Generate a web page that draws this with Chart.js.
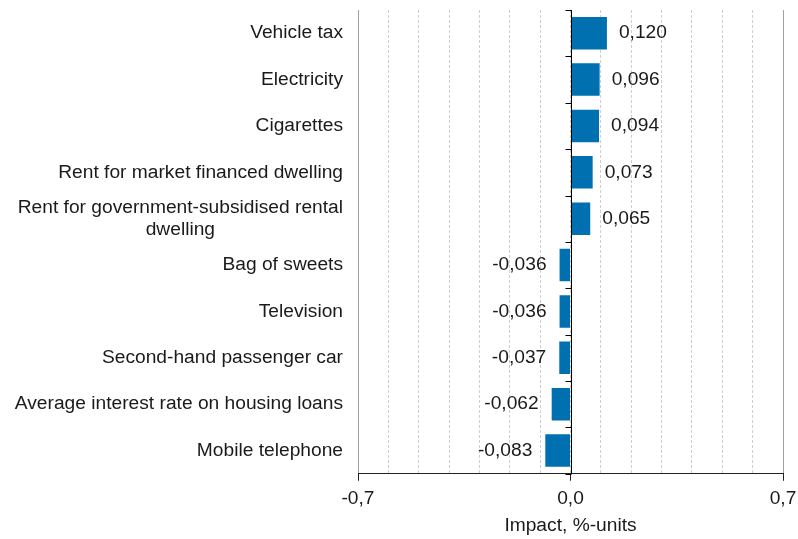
<!DOCTYPE html>
<html><head><meta charset="utf-8">
<script src="https://cdn.jsdelivr.net/npm/chart.js@4"></script>
<style>html,body{margin:0;padding:0;background:#fff}#wrap{width:798px;height:539px;position:relative}</style>
</head><body><div id="wrap"><canvas id="c"></canvas></div>
<script>
const categories = [
  'Vehicle tax',
  'Electricity',
  'Cigarettes',
  'Rent for market financed dwelling',
  ['Rent for government-subsidised rental', 'dwelling'],
  'Bag of sweets',
  'Television',
  'Second-hand passenger car',
  'Average interest rate on housing loans',
  'Mobile telephone'
];
const impacts = [0.120, 0.096, 0.094, 0.073, 0.065, -0.036, -0.036, -0.037, -0.062, -0.083];
const xLabelledTicks = [-0.7, 0.0, 0.7];
const axisTitle = 'Impact, %-units';

const FONT_FAMILY = '"Liberation Sans", Arial, sans-serif';
const FONT_SIZE = 19.2;
const TEXT_COLOR = '#1a1a1a';
const BAR_COLOR = '#0070b0';

const isLabelled = v => xLabelledTicks.some(t => Math.abs(t - v) < 1e-9);
const isEdge = v => Math.abs(Math.abs(v) - 0.7) < 1e-9;
const fmt = (v, d) => v.toFixed(d).replace('.', ',');

const customDraw = {
  id: 'customDraw',
  afterDatasetsDraw(chart) {
    const {ctx, chartArea, scales: {x, y}} = chart;
    const x0 = Math.round(x.getPixelForValue(0)) + 0.5;
    ctx.save();
    ctx.strokeStyle = '#000';
    ctx.lineWidth = 1;
    ctx.beginPath();
    ctx.moveTo(x0, chartArea.top);
    ctx.lineTo(x0, chartArea.bottom);
    for (let i = 0; i <= categories.length; i++) {
      const yy = Math.round(y.getPixelForValue(i - 0.5)) + 0.5;
      ctx.moveTo(x0 - 6, yy);
      ctx.lineTo(x0, yy);
    }
    ctx.stroke();

    ctx.font = FONT_SIZE + 'px ' + FONT_FAMILY;
    ctx.fillStyle = TEXT_COLOR;
    ctx.textBaseline = 'middle';
    const meta = chart.getDatasetMeta(0);
    meta.data.forEach((bar, i) => {
      const v = impacts[i];
      const txt = fmt(v, 3);
      if (v >= 0) {
        ctx.textAlign = 'left';
        ctx.fillText(txt, bar.x + 12, bar.y);
      } else {
        ctx.textAlign = 'right';
        ctx.fillText(txt, bar.x - 13, bar.y);
      }
    });

    const right = chartArea.left - 15;
    const lh = FONT_SIZE * 1.15;
    ctx.textAlign = 'center';
    categories.forEach((lab, i) => {
      const lines = Array.isArray(lab) ? lab : [lab];
      const maxW = Math.max(...lines.map(l => ctx.measureText(l).width));
      const cx = right - maxW / 2;
      const yc = y.getPixelForValue(i);
      lines.forEach((l, j) => {
        ctx.fillText(l, cx, yc + (j - (lines.length - 1) / 2) * lh);
      });
    });
    ctx.restore();
  }
};

new Chart(document.getElementById('c'), {
  type: 'bar',
  data: {
    labels: categories,
    datasets: [{
      data: impacts,
      backgroundColor: BAR_COLOR,
      borderWidth: 0,
      barPercentage: 0.7,
      categoryPercentage: 1.0
    }]
  },
  options: {
    indexAxis: 'y',
    responsive: true,
    maintainAspectRatio: false,
    animation: false,
    layout: {padding: {left: 14, right: 15, top: 10, bottom: 0}},
    plugins: {legend: {display: false}, tooltip: {enabled: false}},
    scales: {
      x: {
        type: 'linear',
        min: -0.7,
        max: 0.7,
        ticks: {
          stepSize: 0.1,
          autoSkip: false,
          maxRotation: 0,
          color: TEXT_COLOR,
          font: {family: FONT_FAMILY, size: FONT_SIZE},
          padding: 6,
          callback: v => isLabelled(v) ? fmt(v, 1) : ''
        },
        grid: {
          color: c => (c.tick && isEdge(c.tick.value)) ? '#a0a0a0' : '#cdcdcd',
          lineWidth: 1,
          tickLength: 7,
          tickColor: c => (c.tick && isLabelled(c.tick.value)) ? '#222' : 'rgba(0,0,0,0)'
        },
        border: {
          display: true,
          color: '#222',
          width: 1,
          dash: c => (c.tick && isEdge(c.tick.value)) ? [] : [3, 2]
        },
        title: {
          display: true,
          text: axisTitle,
          color: TEXT_COLOR,
          font: {family: FONT_FAMILY, size: FONT_SIZE, lineHeight: 1.0},
          padding: {top: 0, bottom: 4}
        },
        afterFit: s => { s.paddingLeft = 0; s.paddingRight = 0; }
      },
      y: {
        type: 'category',
        ticks: {display: false, autoSkip: false},
        grid: {display: false, drawTicks: false},
        border: {display: false},
        afterFit: s => { s.width = 344; }
      }
    }
  },
  plugins: [customDraw]
});
</script>
</body></html>
